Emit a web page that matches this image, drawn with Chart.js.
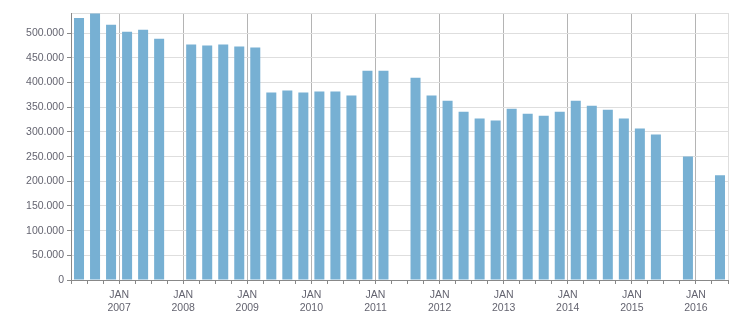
<!DOCTYPE html>
<html>
<head>
<meta charset="utf-8">
<script src="https://cdn.jsdelivr.net/npm/chart.js@4/dist/chart.umd.min.js"></script>
<style>
  html, body { margin: 0; padding: 0; background: #fff; }
  #wrap { width: 751px; height: 313px; position: relative; }
</style>
</head>
<body>
<div id="wrap"><canvas id="chart"></canvas></div>
<script>
// quarterly figures, Q2 2006 .. Q2 2016 (null = no bar)
const quarters = [
  '2006 Q2', '2006 Q3', '2006 Q4',
  '2007 Q1', '2007 Q2', '2007 Q3', '2007 Q4',
  '2008 Q1', '2008 Q2', '2008 Q3', '2008 Q4',
  '2009 Q1', '2009 Q2', '2009 Q3', '2009 Q4',
  '2010 Q1', '2010 Q2', '2010 Q3', '2010 Q4',
  '2011 Q1', '2011 Q2', '2011 Q3', '2011 Q4',
  '2012 Q1', '2012 Q2', '2012 Q3', '2012 Q4',
  '2013 Q1', '2013 Q2', '2013 Q3', '2013 Q4',
  '2014 Q1', '2014 Q2', '2014 Q3', '2014 Q4',
  '2015 Q1', '2015 Q2', '2015 Q3', '2015 Q4',
  '2016 Q1', '2016 Q2'
];
const amounts = [
  531000, 540000, 517000,
  503000, 507000, 489000, null,
  477000, 475000, 477000, 473000,
  471000, 380000, 384000, 380000,
  382000, 382000, 374000, 424000,
  424000, null, 410000, 374000,
  363000, 341000, 327000, 323000,
  347000, 337000, 333000, 341000,
  363000, 353000, 345000, 327000,
  307000, 295000, null, 250000,
  null, 212000
];
const years = ['2007', '2008', '2009', '2010', '2011', '2012', '2013', '2014', '2015', '2016'];
const yTicks = [0, 50000, 100000, 150000, 200000, 250000, 300000, 350000, 400000, 450000, 500000];
const yMax = 541000;

const textColor = '#646470';
const axisColor = '#888888';
const clear = 'rgba(0,0,0,0)';
const font = { family: 'Liberation Sans', size: 10.5, lineHeight: 1.2 };

// index of the quarter boundary that falls on January of years[k]
const firstJan = quarters.indexOf(years[0] + ' Q1');
const isJan = v => v >= firstJan && (v - firstJan) % 4 === 0;

function fmt(v) {
  return String(v).replace(/\B(?=(\d{3})+(?!\d))/g, '.');
}

new Chart(document.getElementById('chart'), {
  type: 'bar',
  data: {
    labels: quarters,
    datasets: [{
      data: amounts,
      backgroundColor: '#77b0d3',
      barPercentage: 0.625,
      categoryPercentage: 1
    }]
  },
  options: {
    responsive: true,
    maintainAspectRatio: false,
    animation: false,
    layout: { padding: { top: 13, right: 23, left: 0, bottom: 0 } },
    plugins: { legend: { display: false }, tooltip: { enabled: false } },
    scales: {
      x: { display: false },
      x2: {
        type: 'linear',
        position: 'bottom',
        offset: false,
        min: 0,
        max: quarters.length,
        afterFit: s => { s.height = 33; },
        afterBuildTicks: s => {
          s.ticks = quarters.map((q, i) => ({ value: i })).concat([{ value: quarters.length }]);
        },
        border: { color: axisColor },
        grid: {
          offset: false,
          tickLength: 4,
          tickColor: axisColor,
          color: c => {
            if (!c.tick) return clear;
            const v = c.tick.value;
            if (v === quarters.length) return '#dedede';
            return isJan(v) ? '#b4b4b4' : clear;
          }
        },
        ticks: {
          autoSkip: false,
          maxRotation: 0,
          padding: 5,
          color: textColor,
          font: font,
          callback: v => isJan(v) ? ['JAN', years[(v - firstJan) / 4]] : ''
        }
      },
      y: {
        min: 0,
        max: yMax,
        afterFit: s => { s.width = 71; },
        afterBuildTicks: s => {
          s.ticks = yTicks.map(v => ({ value: v })).concat([{ value: yMax }]);
        },
        border: { color: axisColor },
        grid: {
          tickLength: 4,
          color: c => !c.tick ? clear : (c.tick.value === 0 ? axisColor : '#dedede'),
          tickColor: c => (c.tick && yTicks.includes(c.tick.value)) ? axisColor : clear
        },
        ticks: {
          autoSkip: false,
          padding: 3,
          color: textColor,
          font: font,
          callback: v => yTicks.includes(v) ? fmt(v) : ''
        }
      }
    }
  }
});
</script>
</body>
</html>
